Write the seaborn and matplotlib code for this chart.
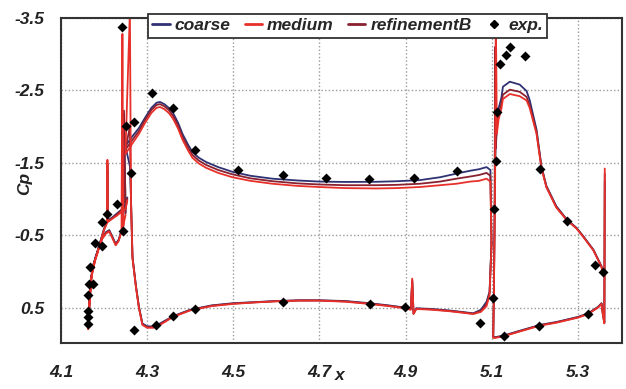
import matplotlib
matplotlib.use("Agg")
import matplotlib.pyplot as plt
from matplotlib.lines import Line2D
import pandas as pd
import seaborn as sns

# ---- surface pressure data: three-element airfoil (slat, main, flap) ----
grids = ["coarse", "medium", "refinementB"]
colors = {"coarse": "#2f3272", "medium": "#e8302a", "refinementB": "#8a2131"}

# slat: upper surface TE -> LE, then cove LE -> cusp
slat_x = [4.254, 4.250, 4.240, 4.230, 4.220, 4.2085, 4.2078, 4.2071, 4.200, 4.196,
          4.185, 4.173, 4.166, 4.163, 4.164, 4.170, 4.180, 4.190, 4.196, 4.204,
          4.212, 4.220, 4.227, 4.234, 4.2405, 4.2426, 4.2445, 4.2462, 4.250]
slat_cp_coarse = [-1.02, -0.90, -0.85, -0.80, -0.75, -0.70, -1.40, -0.69, -0.59, -0.51,
                  -0.28, -0.06, 0.37, 0.76, 0.68, 0.08, -0.19, -0.38, -0.47, -0.54,
                  -0.57, -0.47, -0.38, -0.44, -0.57, -0.59, -0.63, -2.18, -0.82]
slat_cp_medium = [-0.98, -0.86, -0.82, -0.77, -0.73, -0.68, -1.54, -0.67, -0.57, -0.49,
                  -0.26, -0.04, 0.40, 0.80, 0.70, 0.10, -0.17, -0.36, -0.45, -0.52,
                  -0.55, -0.45, -0.36, -0.42, -0.55, -3.28, -0.62, -0.68, -0.78]
slat_cp_refB = [-1.00, -0.88, -0.84, -0.79, -0.74, -0.69, -1.48, -0.68, -0.58, -0.50,
                -0.27, -0.05, 0.38, 0.78, 0.69, 0.09, -0.18, -0.37, -0.46, -0.53,
                -0.56, -0.46, -0.37, -0.43, -0.56, -0.58, -0.62, -2.22, -0.80]

# main element: upper surface TE -> LE, then lower surface LE -> TE
main_x = [5.0995, 5.097, 5.088, 5.070, 5.050, 5.018, 4.980, 4.933, 4.880, 4.832,
          4.760, 4.700, 4.650, 4.591, 4.540, 4.498, 4.465, 4.437, 4.420, 4.405,
          4.395, 4.382, 4.372, 4.360, 4.350, 4.340, 4.330, 4.322, 4.310, 4.295,
          4.281, 4.265, 4.2495, 4.2600, 4.2625, 4.266, 4.274, 4.281, 4.289, 4.300,
          4.315, 4.330, 4.360, 4.400, 4.450, 4.500, 4.550, 4.600, 4.653, 4.700,
          4.760, 4.816, 4.860, 4.898, 4.912, 4.9155, 4.9185, 4.925, 4.960, 5.000,
          5.030, 5.057, 5.075, 5.088, 5.095, 5.0995]
main_cp_coarse = [-0.40, -1.40, -1.44, -1.41, -1.39, -1.35, -1.30, -1.26, -1.245, -1.237,
                  -1.235, -1.24, -1.255, -1.28, -1.32, -1.375, -1.44, -1.51, -1.57, -1.65,
                  -1.75, -1.90, -2.05, -2.19, -2.26, -2.31, -2.34, -2.33, -2.26, -2.12,
                  -1.98, -1.86, -1.73, -1.45, -1.00, -0.20, 0.20, 0.49, 0.72, 0.76,
                  0.76, 0.72, 0.62, 0.53, 0.47, 0.44, 0.425, 0.41, 0.40, 0.40,
                  0.41, 0.44, 0.47, 0.50, 0.52, 0.14, 0.58, 0.51, 0.52, 0.54,
                  0.56, 0.58, 0.53, 0.42, 0.28, -0.40]
main_cp_medium = [-0.35, -1.24, -1.28, -1.25, -1.24, -1.21, -1.19, -1.165, -1.15, -1.145,
                  -1.15, -1.165, -1.18, -1.21, -1.25, -1.30, -1.36, -1.43, -1.49, -1.57,
                  -1.67, -1.82, -1.97, -2.11, -2.19, -2.24, -2.27, -2.26, -2.19, -2.05,
                  -1.90, -1.76, -1.62, -3.60, -0.95, -0.18, 0.22, 0.51, 0.74, 0.78,
                  0.78, 0.74, 0.63, 0.54, 0.48, 0.45, 0.43, 0.415, 0.405, 0.405,
                  0.42, 0.45, 0.48, 0.51, 0.53, 0.10, 0.59, 0.52, 0.53, 0.55,
                  0.57, 0.59, 0.56, 0.48, 0.33, -0.35]
main_cp_refB = [-0.38, -1.32, -1.36, -1.33, -1.31, -1.28, -1.24, -1.21, -1.195, -1.19,
                -1.19, -1.20, -1.215, -1.245, -1.285, -1.34, -1.40, -1.47, -1.53, -1.61,
                -1.71, -1.86, -2.01, -2.15, -2.23, -2.28, -2.31, -2.30, -2.23, -2.09,
                -1.94, -1.81, -1.68, -2.00, -0.98, -0.19, 0.21, 0.50, 0.73, 0.77,
                0.77, 0.73, 0.625, 0.535, 0.475, 0.445, 0.428, 0.412, 0.402, 0.402,
                0.415, 0.445, 0.475, 0.505, 0.525, 0.12, 0.585, 0.515, 0.525, 0.545,
                0.565, 0.585, 0.545, 0.45, 0.30, -0.38]

# flap: TE, lower surface TE -> LE, then upper surface LE -> TE
flap_x = [5.3625, 5.3615, 5.358, 5.355, 5.347, 5.324, 5.300, 5.250, 5.212, 5.160,
          5.126, 5.107, 5.1035, 5.105, 5.1065, 5.108, 5.1095, 5.112, 5.116, 5.1225,
          5.126, 5.142, 5.165, 5.181, 5.188, 5.204, 5.2156, 5.227, 5.250, 5.274,
          5.297, 5.312, 5.336, 5.355, 5.358]
flap_cp_coarse = [-1.25, 0.70, 0.58, 0.44, 0.49, 0.58, 0.63, 0.70, 0.74, 0.83,
                  0.89, 0.91, 0.90, 0.30, -0.60, -1.50, -1.75, -2.05, -2.25, -2.40,
                  -2.55, -2.62, -2.58, -2.49, -2.37, -1.96, -1.45, -1.18, -0.90, -0.72,
                  -0.60, -0.49, -0.30, -0.07, 0.03]
flap_cp_medium = [-1.42, 0.72, 0.60, 0.45, 0.50, 0.59, 0.64, 0.71, 0.75, 0.84,
                  0.90, 0.92, 0.92, 0.35, -0.50, -1.30, -3.60, -1.90, -2.10, -2.25,
                  -2.38, -2.45, -2.42, -2.36, -2.26, -1.90, -1.42, -1.16, -0.88, -0.71,
                  -0.59, -0.48, -0.29, -0.06, 0.04]
flap_cp_refB = [-1.35, 0.71, 0.59, 0.445, 0.495, 0.585, 0.635, 0.705, 0.745, 0.835,
                0.895, 0.915, 0.91, 0.32, -0.55, -3.10, -1.70, -2.00, -2.18, -2.32,
                -2.44, -2.51, -2.48, -2.41, -2.30, -1.93, -1.43, -1.17, -0.89, -0.715,
                -0.595, -0.485, -0.295, -0.065, 0.035]

# wind-tunnel measurements
exp_x = [4.1635, 4.1635, 4.1635, 4.1635, 4.165, 4.175, 4.167, 4.179, 4.196, 4.196,
         4.206, 4.229, 4.243, 4.2426,
         4.250, 4.270, 4.262, 4.311, 4.360, 4.412, 4.512, 4.615, 4.716, 4.816,
         4.919, 5.019,
         4.270, 4.320, 4.360, 4.412, 4.615, 4.818, 4.898, 5.072, 5.103, 5.105,
         5.111, 5.113, 5.120, 5.133, 5.143, 5.177, 5.213, 5.274, 5.340, 5.359,
         5.324, 5.209, 5.128]
exp_cp = [0.724, 0.624, 0.541, 0.325, 0.178, 0.178, -0.065, -0.396, -0.350, -0.685,
          -0.790, -0.929, -0.561, -3.372,
          -2.004, -2.063, -1.360, -2.470, -2.256, -1.673, -1.394, -1.325, -1.283, -1.270,
          -1.292, -1.384,
          0.807, 0.748, 0.614, 0.522, 0.425, 0.449, 0.494, 0.715, 0.370, -0.860,
          -1.520, -2.200, -2.870, -2.990, -3.100, -2.969, -1.407, -0.695, -0.088, 0.004,
          0.587, 0.752, 0.899]

x_ticks = [4.1, 4.3, 4.5, 4.7, 4.9, 5.1, 5.3]
y_ticks = [-3.5, -2.5, -1.5, -0.5, 0.5]

# ---- long-form table ----
curves = {
    "coarse": [("slat", slat_x, slat_cp_coarse), ("main", main_x, main_cp_coarse),
               ("flap", flap_x, flap_cp_coarse)],
    "medium": [("slat", slat_x, slat_cp_medium), ("main", main_x, main_cp_medium),
               ("flap", flap_x, flap_cp_medium)],
    "refinementB": [("slat", slat_x, slat_cp_refB), ("main", main_x, main_cp_refB),
                    ("flap", flap_x, flap_cp_refB)],
}
frames = []
for grid, parts in curves.items():
    for element, xs, cps in parts:
        frames.append(pd.DataFrame({"grid": grid, "element": element, "x": xs, "cp": cps}))
df = pd.concat(frames, ignore_index=True)
exp_df = pd.DataFrame({"x": exp_x, "cp": exp_cp})

# ---- figure ----
sns.set_theme(style="white")
plt.rcParams["font.family"] = ["Liberation Sans", "DejaVu Sans"]

fig = plt.figure(figsize=(6.26, 3.89), dpi=100)
ax = fig.add_axes([61 / 626, 1 - 343 / 389, 561 / 626, 325 / 389])

sns.lineplot(data=df, x="x", y="cp", hue="grid", units="element", estimator=None,
             sort=False, hue_order=["coarse", "refinementB", "medium"], palette=colors,
             linewidth=1.3, legend=False, ax=ax)
sns.scatterplot(data=exp_df, x="x", y="cp", marker="D", color="black", s=26,
                linewidth=0, zorder=5, ax=ax)

ax.set_xlim(4.1, 5.4025)
ax.set_ylim(0.99, -3.5)
ax.set_xticks(x_ticks)
ax.set_yticks(y_ticks)
ax.set_xticklabels([f"{v:.1f}" for v in x_ticks])
ax.set_yticklabels([f"{v:.1f}" for v in y_ticks])
for lab in ax.get_xticklabels() + ax.get_yticklabels():
    lab.set_fontweight("bold")
    lab.set_fontstyle("italic")
    lab.set_fontsize(12.5)
    lab.set_color("#222222")
ax.tick_params(axis="x", length=0, pad=16)
ax.tick_params(axis="y", length=0, pad=12)

ax.grid(True, color="#9a9a9a", linestyle=(0, (1, 1.6)), linewidth=1.0)
ax.set_axisbelow(True)
for sp in ax.spines.values():
    sp.set_visible(True)
    sp.set_color("#333333")
    sp.set_linewidth(1.5)

ax.set_xlabel("x", fontsize=12.5, fontweight="bold", fontstyle="italic", color="#222222")
ax.set_ylabel("Cp", fontsize=12.5, fontweight="bold", fontstyle="italic", color="#222222")
ax.xaxis.set_label_coords(0.497, -0.078)
ax.yaxis.set_label_coords(-0.052, 0.49)

handles = [Line2D([], [], color=colors["coarse"], lw=2.0),
           Line2D([], [], color=colors["medium"], lw=2.0),
           Line2D([], [], color=colors["refinementB"], lw=2.0),
           Line2D([], [], marker="D", color="black", linestyle="None", markersize=4.5)]
leg = ax.legend(handles, ["coarse", "medium", "refinementB", "exp."],
                loc="upper center", bbox_to_anchor=(347.5 / 626, 1 - 5 / 389),
                bbox_transform=fig.transFigure, ncol=4, frameon=True, fancybox=False,
                edgecolor="#333333", framealpha=1.0, borderpad=0.25,
                handlelength=1.0, handletextpad=0.3, columnspacing=0.8,
                prop={"weight": "bold", "style": "italic", "size": 12.5})
leg.get_frame().set_linewidth(1.3)
leg.set_zorder(10)

fig.savefig("out.png", dpi=100)
